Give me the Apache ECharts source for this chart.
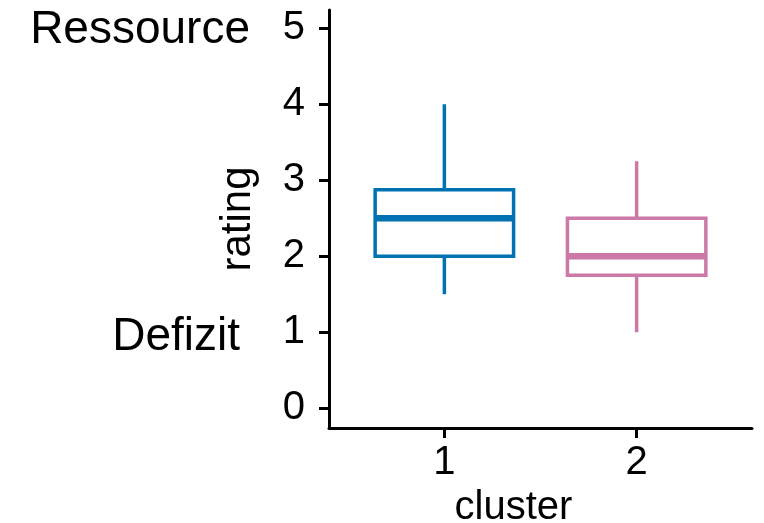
<!DOCTYPE html>
<html>
<head>
<meta charset="utf-8">
<script src="https://cdn.jsdelivr.net/npm/echarts@6/dist/echarts.min.js"></script>
<style>html,body{margin:0;padding:0;background:#fff}#c{width:764px;height:523px}</style>
</head>
<body>
<div id="c"></div>
<script>
var clusters = [1, 2];
var whiskerLow = [1.5, 1.0];
var q1 = [2.0, 1.75];
var median = [2.5, 2.0];
var q3 = [2.875, 2.5];
var whiskerHigh = [4.0, 3.25];
var yTicks = [0, 1, 2, 3, 4, 5];
var xTicks = [1, 2];
var colors = ['#0072B2', '#CC79A7'];
var halfBox = 0.36;

var data = clusters.map(function (c, i) {
  return [c, whiskerLow[i], q1[i], median[i], q3[i], whiskerHigh[i]];
});

var FONT = '"Liberation Sans", Arial, sans-serif';
var chart = echarts.init(document.getElementById('c'));
chart.setOption({
  backgroundColor: '#fff',
  animation: false,
  grid: { left: 329, right: 12, top: 10, bottom: 95, outerBoundsMode: 'none', containLabel: false },
  xAxis: {
    type: 'value', min: 0.4, max: 2.6,
    name: 'cluster', nameLocation: 'middle', nameGap: 46,
    nameTextStyle: { color: '#000', fontSize: 40, fontFamily: FONT, padding: [0, 54, 0, 0] },
    axisLine: { show: true, onZero: false, lineStyle: { color: '#000', width: 3 } },
    axisTick: { show: true, customValues: xTicks, length: 10, lineStyle: { color: '#000', width: 3 } },
    axisLabel: { customValues: xTicks, color: '#000', fontSize: 40, fontFamily: FONT, margin: 15 },
    splitLine: { show: false }
  },
  yAxis: {
    type: 'value', min: -0.26, max: 5.24,
    name: 'rating', nameLocation: 'middle', nameGap: 70, nameRotate: 90,
    nameTextStyle: { color: '#000', fontSize: 42, fontFamily: FONT },
    axisLine: { show: true, onZero: false, lineStyle: { color: '#000', width: 3 } },
    axisTick: { show: true, customValues: yTicks, length: 10, lineStyle: { color: '#000', width: 3 } },
    axisLabel: { customValues: yTicks, color: '#000', fontSize: 40, fontFamily: FONT, margin: 24 },
    splitLine: { show: false }
  },
  graphic: [
    { type: 'text', x: 250, y: 30, style: { text: 'Ressource', fill: '#000', font: '46px ' + FONT, align: 'right', verticalAlign: 'middle' } },
    { type: 'text', x: 240, y: 337, style: { text: 'Defizit', fill: '#000', font: '46px ' + FONT, align: 'right', verticalAlign: 'middle' } }
  ],
  series: [{
    type: 'custom',
    data: data,
    renderItem: function (params, api) {
      var x = api.value(0);
      var c = colors[params.dataIndex];
      var pLow = api.coord([x, api.value(1)]);
      var pQ1 = api.coord([x, api.value(2)]);
      var pMed = api.coord([x, api.value(3)]);
      var pQ3 = api.coord([x, api.value(4)]);
      var pHigh = api.coord([x, api.value(5)]);
      var left = api.coord([x - halfBox, 0])[0];
      var right = api.coord([x + halfBox, 0])[0];
      return {
        type: 'group',
        children: [
          { type: 'line', shape: { x1: pHigh[0], y1: pHigh[1], x2: pQ3[0], y2: pQ3[1] }, style: { stroke: c, lineWidth: 3.5 } },
          { type: 'line', shape: { x1: pLow[0], y1: pLow[1], x2: pQ1[0], y2: pQ1[1] }, style: { stroke: c, lineWidth: 3.5 } },
          { type: 'rect', shape: { x: left, y: pQ3[1], width: right - left, height: pQ1[1] - pQ3[1] }, style: { stroke: c, fill: '#fff', lineWidth: 3.5 } },
          { type: 'line', shape: { x1: left, y1: pMed[1], x2: right, y2: pMed[1] }, style: { stroke: c, lineWidth: 6.5 } }
        ]
      };
    }
  }]
});
</script>
</body>
</html>
